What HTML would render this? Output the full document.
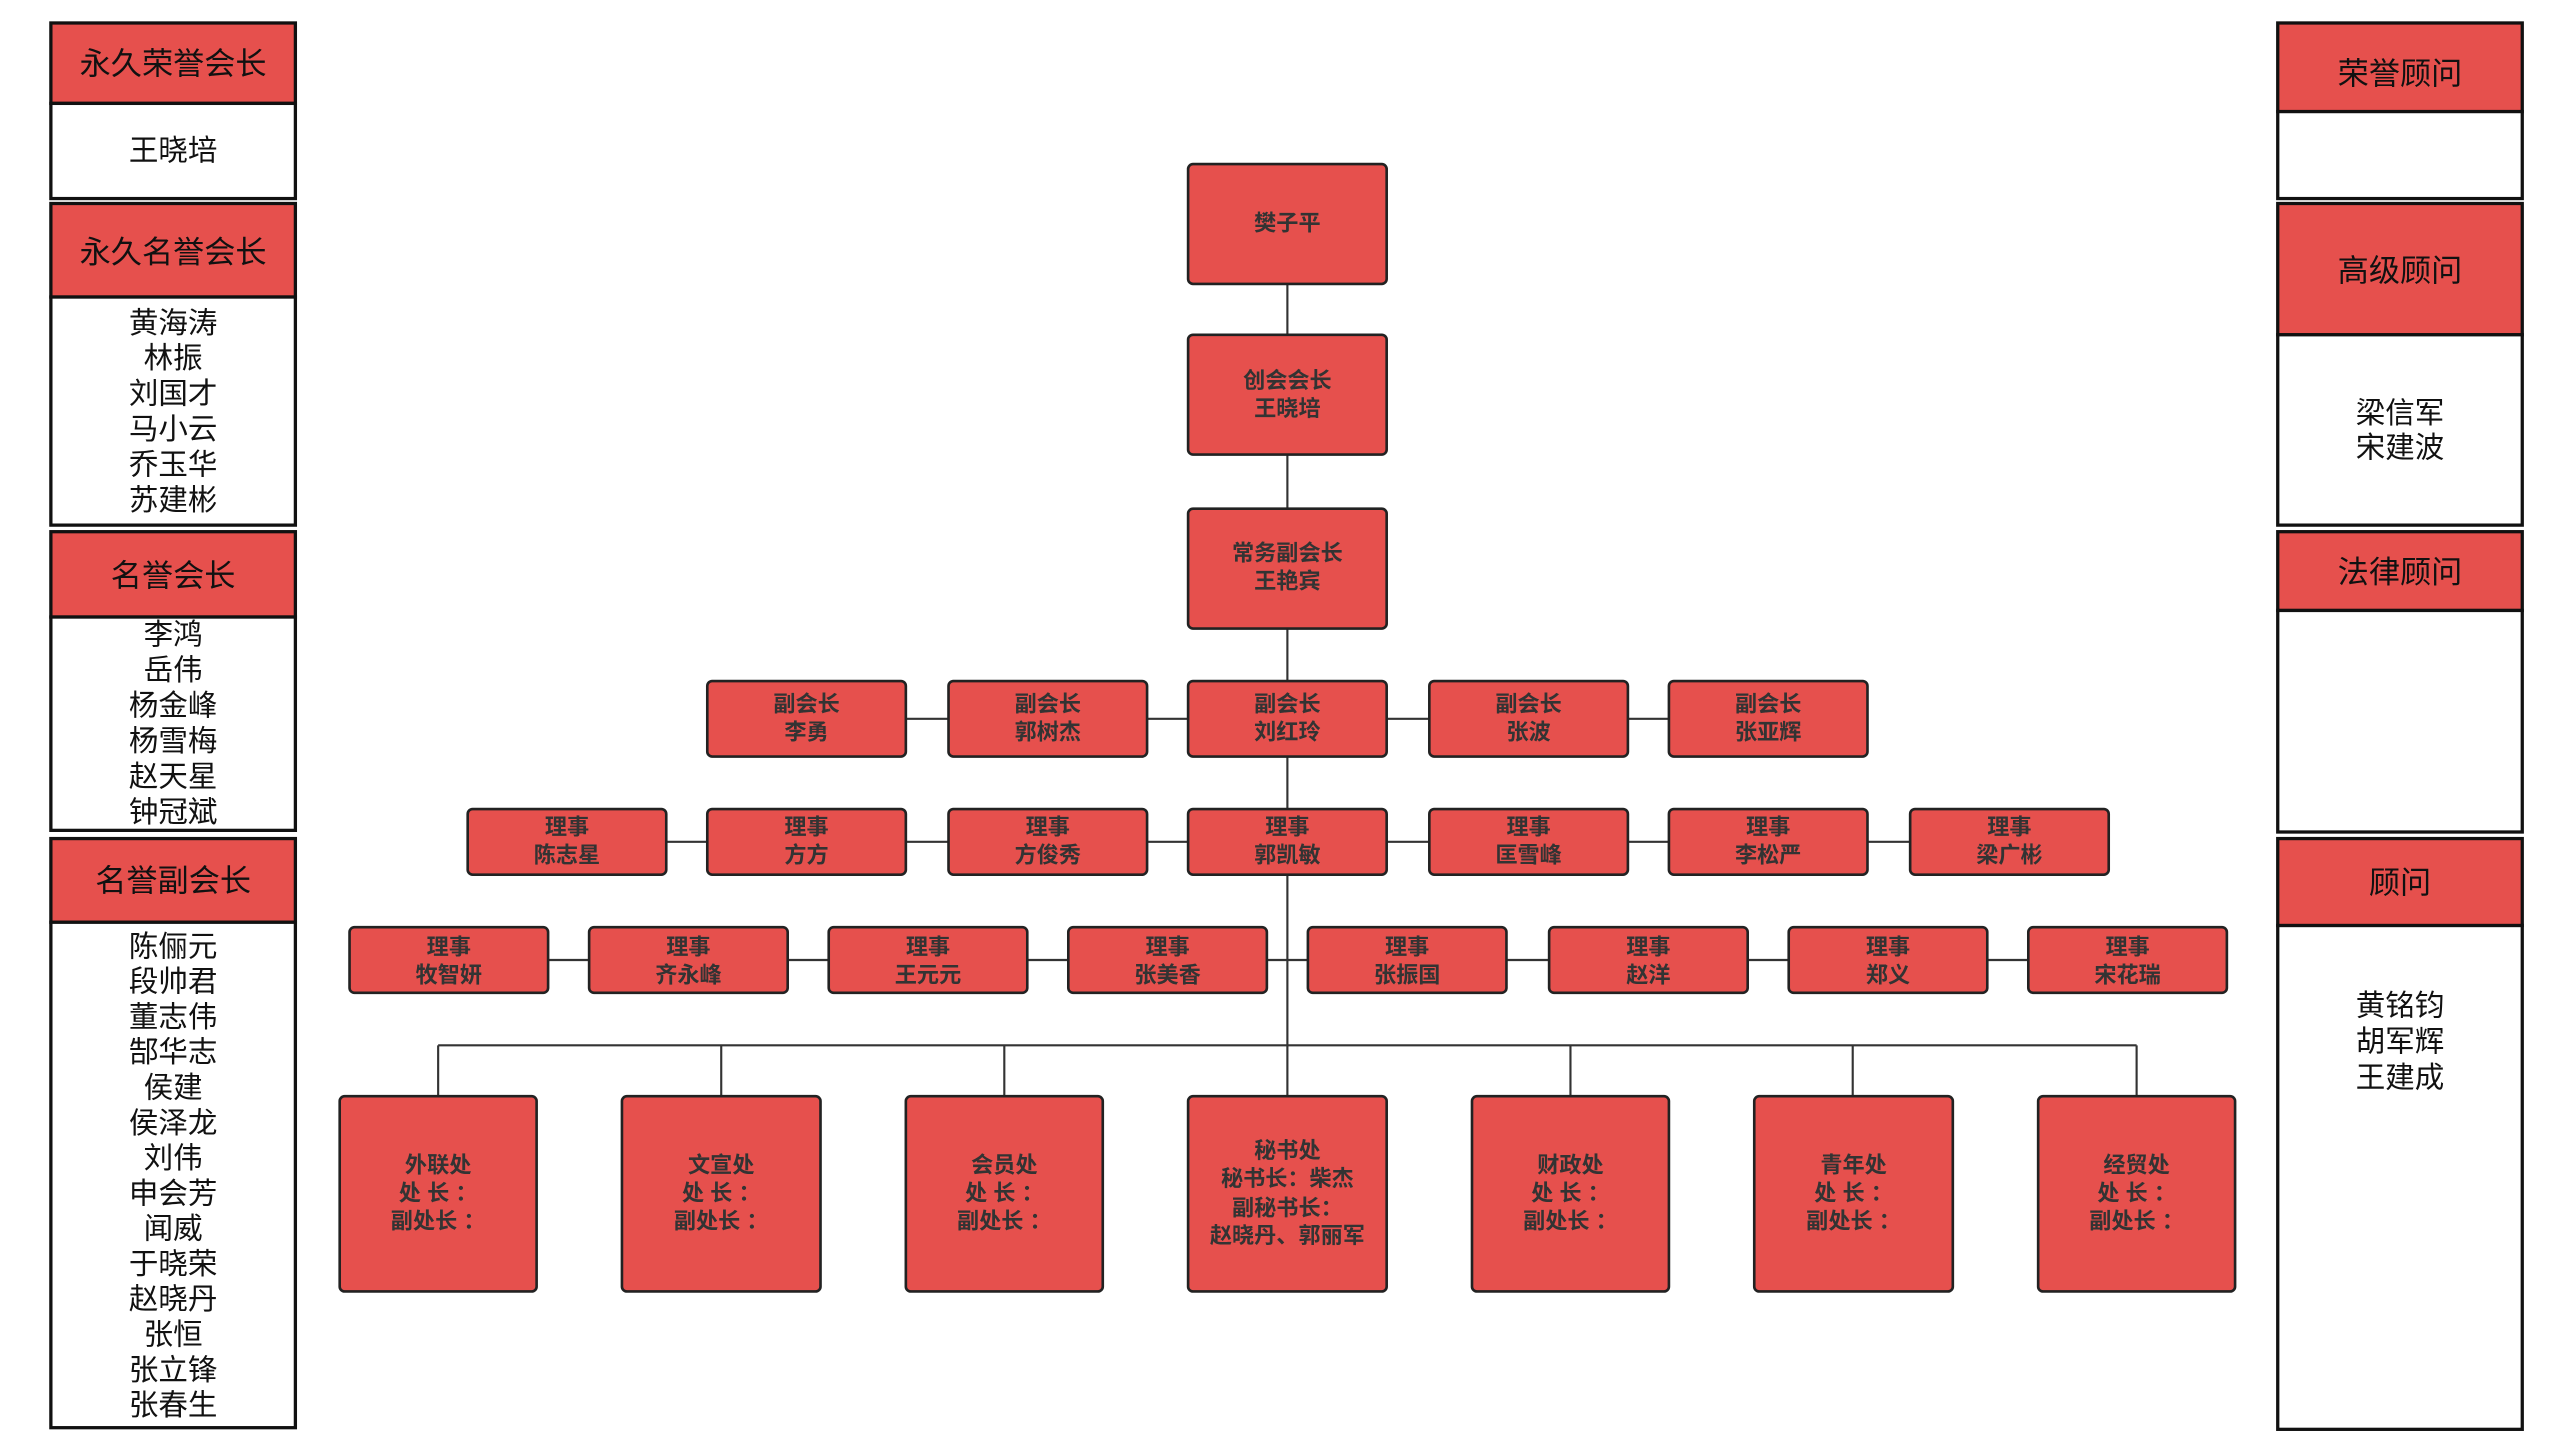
<!DOCTYPE html>
<html><head><meta charset="utf-8"><style>
html,body{margin:0;padding:0;background:#fff;width:2560px;height:1440px;overflow:hidden}
svg{display:block}
text{font-family:"Liberation Sans","Noto Sans CJK SC",sans-serif;text-anchor:middle;dominant-baseline:central}
.n{fill:#333;font-size:13.5px;font-weight:bold}
.h{fill:#111;font-size:19px}
.b{fill:#111;font-size:18px}
.r{fill:#E6504D;stroke:#222;stroke-width:1.6}
.p{fill:#E6504D;stroke:#111;stroke-width:2}
.w{fill:#fff;stroke:#111;stroke-width:2}
.l{stroke:#333;stroke-width:1.3;fill:none}
</style></head><body>
<svg width="2560" height="1440" viewBox="0 0 1560 877.5" xmlns="http://www.w3.org/2000/svg">
<!-- connectors -->
<path class="l" d="M784.5 173V668 M267 637H1302 M267 637V668 M439.5 637V668 M612 637V668 M957 637V668 M1129 637V668 M1302 637V668
M552 438H578 M699 438H724 M845 438H871 M992 438H1017
M406 513H431 M552 513H578 M699 513H724 M845 513H871 M992 513H1017 M1138 513H1164
M334 585H359 M480 585H505 M626 585H651 M772 585H797 M918 585H944 M1064 585H1090 M1211 585H1236"/>
<!-- top -->
<rect class="r" x="724" y="100" width="121" height="73" rx="3"/><text class="n" x="784.5" y="136">樊子平</text>
<rect class="r" x="724" y="204" width="121" height="73" rx="3"/><text class="n" x="784.5" y="232">创会会长</text><text class="n" x="784.5" y="249">王晓培</text>
<rect class="r" x="724" y="310" width="121" height="73" rx="3"/><text class="n" x="784.5" y="337">常务副会长</text><text class="n" x="784.5" y="354">王艳宾</text>
<!-- vice -->
<g>
<rect class="r" x="431" y="415" width="121" height="46" rx="3"/><text class="n" x="491.5" y="429">副会长</text><text class="n" x="491.5" y="446">李勇</text>
<rect class="r" x="578" y="415" width="121" height="46" rx="3"/><text class="n" x="638.5" y="429">副会长</text><text class="n" x="638.5" y="446">郭树杰</text>
<rect class="r" x="724" y="415" width="121" height="46" rx="3"/><text class="n" x="784.5" y="429">副会长</text><text class="n" x="784.5" y="446">刘红玲</text>
<rect class="r" x="871" y="415" width="121" height="46" rx="3"/><text class="n" x="931.5" y="429">副会长</text><text class="n" x="931.5" y="446">张波</text>
<rect class="r" x="1017" y="415" width="121" height="46" rx="3"/><text class="n" x="1077.5" y="429">副会长</text><text class="n" x="1077.5" y="446">张亚辉</text>
</g>
<!-- row1 -->
<g>
<rect class="r" x="285" y="493" width="121" height="40" rx="3"/><text class="n" x="345.5" y="504">理事</text><text class="n" x="345.5" y="521">陈志星</text>
<rect class="r" x="431" y="493" width="121" height="40" rx="3"/><text class="n" x="491.5" y="504">理事</text><text class="n" x="491.5" y="521">方方</text>
<rect class="r" x="578" y="493" width="121" height="40" rx="3"/><text class="n" x="638.5" y="504">理事</text><text class="n" x="638.5" y="521">方俊秀</text>
<rect class="r" x="724" y="493" width="121" height="40" rx="3"/><text class="n" x="784.5" y="504">理事</text><text class="n" x="784.5" y="521">郭凯敏</text>
<rect class="r" x="871" y="493" width="121" height="40" rx="3"/><text class="n" x="931.5" y="504">理事</text><text class="n" x="931.5" y="521">匡雪峰</text>
<rect class="r" x="1017" y="493" width="121" height="40" rx="3"/><text class="n" x="1077.5" y="504">理事</text><text class="n" x="1077.5" y="521">李松严</text>
<rect class="r" x="1164" y="493" width="121" height="40" rx="3"/><text class="n" x="1224.5" y="504">理事</text><text class="n" x="1224.5" y="521">梁广彬</text>
</g>
<!-- row2 -->
<g>
<rect class="r" x="213" y="565" width="121" height="40" rx="3"/><text class="n" x="273.5" y="577">理事</text><text class="n" x="273.5" y="594">牧智妍</text>
<rect class="r" x="359" y="565" width="121" height="40" rx="3"/><text class="n" x="419.5" y="577">理事</text><text class="n" x="419.5" y="594">齐永峰</text>
<rect class="r" x="505" y="565" width="121" height="40" rx="3"/><text class="n" x="565.5" y="577">理事</text><text class="n" x="565.5" y="594">王元元</text>
<rect class="r" x="651" y="565" width="121" height="40" rx="3"/><text class="n" x="711.5" y="577">理事</text><text class="n" x="711.5" y="594">张美香</text>
<rect class="r" x="797" y="565" width="121" height="40" rx="3"/><text class="n" x="857.5" y="577">理事</text><text class="n" x="857.5" y="594">张振国</text>
<rect class="r" x="944" y="565" width="121" height="40" rx="3"/><text class="n" x="1004.5" y="577">理事</text><text class="n" x="1004.5" y="594">赵洋</text>
<rect class="r" x="1090" y="565" width="121" height="40" rx="3"/><text class="n" x="1150.5" y="577">理事</text><text class="n" x="1150.5" y="594">郑义</text>
<rect class="r" x="1236" y="565" width="121" height="40" rx="3"/><text class="n" x="1296.5" y="577">理事</text><text class="n" x="1296.5" y="594">宋花瑞</text>
</g>
<!-- departments -->
<g>
<rect class="r" x="207" y="668" width="120" height="119" rx="3"/><text class="n" x="267" y="710">外联处</text><text class="n" x="267" y="727">处 长 ：</text><text class="n" x="267" y="744">副处长 ：</text>
<rect class="r" x="379" y="668" width="121" height="119" rx="3"/><text class="n" x="439.5" y="710">文宣处</text><text class="n" x="439.5" y="727">处 长 ：</text><text class="n" x="439.5" y="744">副处长 ：</text>
<rect class="r" x="552" y="668" width="120" height="119" rx="3"/><text class="n" x="612" y="710">会员处</text><text class="n" x="612" y="727">处 长 ：</text><text class="n" x="612" y="744">副处长 ：</text>
<rect class="r" x="724" y="668" width="121" height="119" rx="3"/><text class="n" x="784.5" y="701">秘书处</text><text class="n" x="784.5" y="718">秘书长：柴杰</text><text class="n" x="784.5" y="736">副秘书长：</text><text class="n" x="784.5" y="753">赵晓丹、郭丽军</text>
<rect class="r" x="897" y="668" width="120" height="119" rx="3"/><text class="n" x="957" y="710">财政处</text><text class="n" x="957" y="727">处 长 ：</text><text class="n" x="957" y="744">副处长 ：</text>
<rect class="r" x="1069" y="668" width="121" height="119" rx="3"/><text class="n" x="1129.5" y="710">青年处</text><text class="n" x="1129.5" y="727">处 长 ：</text><text class="n" x="1129.5" y="744">副处长 ：</text>
<rect class="r" x="1242" y="668" width="120" height="119" rx="3"/><text class="n" x="1302" y="710">经贸处</text><text class="n" x="1302" y="727">处 长 ：</text><text class="n" x="1302" y="744">副处长 ：</text>
</g>
<!-- left panels -->
<g>
<rect class="p" x="31" y="14" width="149" height="49"/><text class="h" x="105.5" y="39">永久荣誉会长</text>
<rect class="w" x="31" y="63" width="149" height="58"/><text class="b" x="105.5" y="92">王晓培</text>
<rect class="p" x="31" y="124" width="149" height="57"/><text class="h" x="105.5" y="154">永久名誉会长</text>
<rect class="w" x="31" y="181" width="149" height="139"/>
<text class="b" x="105.5" y="197">黄海涛</text><text class="b" x="105.5" y="218.6">林振</text><text class="b" x="105.5" y="240.2">刘国才</text><text class="b" x="105.5" y="261.8">马小云</text><text class="b" x="105.5" y="283.4">乔玉华</text><text class="b" x="105.5" y="305">苏建彬</text>
<rect class="p" x="31" y="324" width="149" height="52"/><text class="h" x="105.5" y="351">名誉会长</text>
<rect class="w" x="31" y="376" width="149" height="130"/>
<text class="b" x="105.5" y="387">李鸿</text><text class="b" x="105.5" y="408.6">岳伟</text><text class="b" x="105.5" y="430.2">杨金峰</text><text class="b" x="105.5" y="451.8">杨雪梅</text><text class="b" x="105.5" y="473.4">赵天星</text><text class="b" x="105.5" y="495">钟冠斌</text>
<rect class="p" x="31" y="511" width="149" height="51"/><text class="h" x="105.5" y="537">名誉副会长</text>
<rect class="w" x="31" y="562" width="149" height="308"/>
<text class="b" x="105.5" y="577">陈俪元</text><text class="b" x="105.5" y="598.5">段帅君</text><text class="b" x="105.5" y="620">董志伟</text><text class="b" x="105.5" y="641.5">郜华志</text><text class="b" x="105.5" y="663">侯建</text><text class="b" x="105.5" y="684.5">侯泽龙</text><text class="b" x="105.5" y="706">刘伟</text><text class="b" x="105.5" y="727.5">申会芳</text><text class="b" x="105.5" y="749">闻威</text><text class="b" x="105.5" y="770.5">于晓荣</text><text class="b" x="105.5" y="792">赵晓丹</text><text class="b" x="105.5" y="813.5">张恒</text><text class="b" x="105.5" y="835">张立锋</text><text class="b" x="105.5" y="856.5">张春生</text>
</g>
<!-- right panels -->
<g>
<rect class="p" x="1388" y="14" width="149" height="54"/><text class="h" x="1462.5" y="45">荣誉顾问</text>
<rect class="w" x="1388" y="68" width="149" height="53"/>
<rect class="p" x="1388" y="124" width="149" height="80"/><text class="h" x="1462.5" y="165">高级顾问</text>
<rect class="w" x="1388" y="204" width="149" height="116"/><text class="b" x="1462.5" y="252">梁信军</text><text class="b" x="1462.5" y="273">宋建波</text>
<rect class="p" x="1388" y="324" width="149" height="48"/><text class="h" x="1462.5" y="349">法律顾问</text>
<rect class="w" x="1388" y="372" width="149" height="135"/>
<rect class="p" x="1388" y="511" width="149" height="53"/><text class="h" x="1462.5" y="538">顾问</text>
<rect class="w" x="1388" y="564" width="149" height="307"/><text class="b" x="1462.5" y="613">黄铭钧</text><text class="b" x="1462.5" y="635">胡军辉</text><text class="b" x="1462.5" y="657">王建成</text>
</g>
</svg>
</body></html>
